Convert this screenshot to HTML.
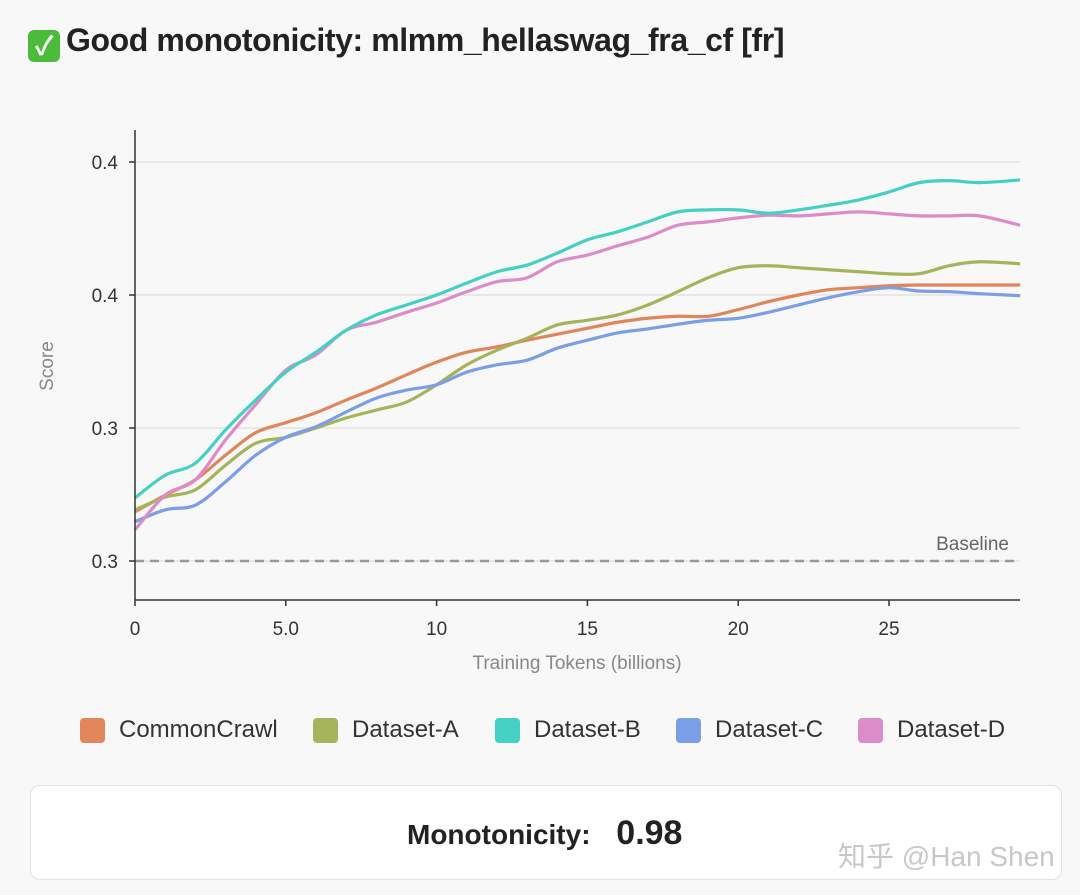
<!DOCTYPE html>
<html><head><meta charset="utf-8">
<style>
html,body{margin:0;padding:0;background:#f8f8f8;width:1080px;height:895px;overflow:hidden;font-family:"Liberation Sans","Noto Sans CJK SC",sans-serif;}
#title{position:absolute;left:28px;top:22px;font-size:32px;font-weight:bold;color:#222;letter-spacing:-0.4px;white-space:nowrap;}
#title .ck{display:inline-block;width:32px;height:32px;background:#4cbb3c;border-radius:6px;color:#fff;text-align:center;line-height:32px;font-size:26px;vertical-align:-4px;margin-right:6px;}
svg{position:absolute;left:0;top:0;}
.legend{position:absolute;top:716px;left:0;width:1080px;height:30px;font-size:24px;color:#333;}
.li{position:absolute;top:0;display:flex;align-items:center;white-space:nowrap;}
.sw{width:25px;height:25px;border-radius:4px;margin-right:14px;}
#box{position:absolute;left:30px;top:785px;width:1032px;height:95px;background:#fff;border:1px solid #e2e2e2;border-radius:10px;box-sizing:border-box;}
#mono{position:absolute;left:407px;top:814px;font-size:28px;font-weight:bold;color:#222;white-space:nowrap;}
#mono b{font-size:34px;margin-left:18px;}
#wm{position:absolute;left:838px;top:835px;font-size:28px;color:#c8c8c8;white-space:nowrap;}
</style></head><body>
<div id="title"><span class="ck">✓</span>Good monotonicity: mlmm_hellaswag_fra_cf [fr]</div>
<svg id="chart" width="1080" height="895"></svg>
<div class="legend">
<div class="li" style="left:80px"><div class="sw" style="background:#e0865a"></div>CommonCrawl</div>
<div class="li" style="left:313px"><div class="sw" style="background:#a5b45a"></div>Dataset-A</div>
<div class="li" style="left:495px"><div class="sw" style="background:#45d0c4"></div>Dataset-B</div>
<div class="li" style="left:676px"><div class="sw" style="background:#7b9ee8"></div>Dataset-C</div>
<div class="li" style="left:858px"><div class="sw" style="background:#dc8cc9"></div>Dataset-D</div>
</div>
<div id="box"></div>
<div id="mono">Monotonicity: <b>0.98</b></div>
<div id="wm">知乎 @Han Shen</div>
<script>
const xs=[0,1,2,3,4,5,6,7,8,9,10,11,12,13,14,15,16,17,18,19,20,21,22,23,24,25,26,27,28,29.35];
const cc=[.3274,.3299,.3322,.3359,.3393,.3408,.3423,.3442,.3460,.3480,.3499,.3514,.3522,.3532,.3541,.3550,.3559,.3565,.3568,.3568,.3578,.3590,.3600,.3608,.3611,.3614,.3615,.3615,.3615,.3615];
const dA=[.3277,.3296,.3307,.3344,.3377,.3386,.3400,.3415,.3427,.3439,.3465,.3495,.3517,.3535,.3555,.3562,.3570,.3585,.3605,.3626,.3641,.3644,.3641,.3638,.3635,.3632,.3632,.3644,.3650,.3647];
const dB=[.3295,.3329,.3347,.3397,.3442,.3484,.3514,.3547,.3570,.3585,.3600,.3618,.3635,.3645,.3663,.3683,.3695,.3710,.3725,.3728,.3728,.3723,.3728,.3735,.3743,.3755,.3769,.3772,.3769,.3773];
const dC=[.3259,.3277,.3284,.3319,.3359,.3386,.3402,.3424,.3445,.3457,.3465,.3484,.3495,.3502,.3520,.3532,.3543,.3549,.3556,.3562,.3565,.3574,.3585,.3596,.3605,.3611,.3606,.3605,.3602,.3599];
const dD=[.3247,.3299,.3322,.3382,.3435,.3487,.3510,.3547,.3559,.3574,.3588,.3605,.3620,.3626,.3650,.3660,.3674,.3687,.3705,.3710,.3716,.3720,.3719,.3722,.3725,.3722,.3719,.3719,.3719,.3705];
const yTicks=[0.32,0.34,0.36,0.38];
const yTickLabels=["0.3","0.3","0.4","0.4"];
const xTicks=[0,5,10,15,20,25];
const xTickLabels=["0","5.0","10","15","20","25"];
const baseline=0.32;
const NS="http://www.w3.org/2000/svg";
const svg=document.getElementById('chart');
const X=v=>135+v*30.16;
const Y=v=>561-(v-0.32)/0.02*133;
function el(t,a){const e=document.createElementNS(NS,t);for(const k in a)e.setAttribute(k,a[k]);svg.appendChild(e);return e;}
yTicks.forEach((t,i)=>{
 const g=el('line',{x1:135,x2:1020,y1:Y(t),y2:Y(t),stroke:'#e3e3e3','stroke-width':1.5});
 
 
 el('line',{x1:129,x2:135,y1:Y(t),y2:Y(t),stroke:'#333','stroke-width':1.5});
 const tx=el('text',{x:118,y:Y(t)+7,'text-anchor':'end','font-size':19,fill:'#333'});
 tx.textContent=yTickLabels[i];
 
 
});
xTicks.forEach((t,i)=>{
 el('line',{x1:X(t),x2:X(t),y1:600,y2:606,stroke:'#333','stroke-width':1.5});
 const tx=el('text',{x:X(t),y:635,'text-anchor':'middle','font-size':19,fill:'#333'});
 tx.textContent=xTickLabels[i];
 
 
});
const bl=el('line',{x1:135,x2:1020,y1:Y(baseline),y2:Y(baseline),stroke:'#999','stroke-width':2.5,'stroke-dasharray':'9,6'});


const blt=el('text',{x:1009,y:550,'text-anchor':'end','font-size':19,fill:'#666'});
blt.textContent='Baseline';


function path(vals){
 const p=vals.map((v,i)=>[X(xs[i]),Y(v)]);
 let d='M'+p[0][0]+','+p[0][1];
 for(let i=0;i<p.length-1;i++){
  const p0=p[Math.max(0,i-1)],p1=p[i],p2=p[i+1],p3=p[Math.min(p.length-1,i+2)];
  const c1=[p1[0]+(p2[0]-p0[0])/6,p1[1]+(p2[1]-p0[1])/6];
  const c2=[p2[0]-(p3[0]-p1[0])/6,p2[1]-(p3[1]-p1[1])/6];
  d+=' C'+c1+' '+c2+' '+p2;
 }
 return d;
}
const series=[[cc,'#e0865a','line-commoncrawl'],[dA,'#a5b45a','line-dataset-a'],[dC,'#7b9ee8','line-dataset-c'],[dD,'#dc8cc9','line-dataset-d'],[dB,'#45d0c4','line-dataset-b']];
series.forEach(s=>{
 const l=el('path',{d:path(s[0]),fill:'none',stroke:s[1],'stroke-width':3.2,'stroke-linejoin':'round'});
 
 
});
const ya=el('line',{x1:135,x2:135,y1:130,y2:600,stroke:'#333','stroke-width':1.5});


const xa=el('line',{x1:135,x2:1020,y1:600,y2:600,stroke:'#333','stroke-width':1.5});


const xt=el('text',{x:577,y:669,'text-anchor':'middle','font-size':19,fill:'#888'});
xt.textContent='Training Tokens (billions)';


const yt=el('text',{x:0,y:0,'text-anchor':'middle','font-size':19,fill:'#888',transform:'translate(53,366) rotate(-90)'});
yt.textContent='Score';


</script>
</body></html>
